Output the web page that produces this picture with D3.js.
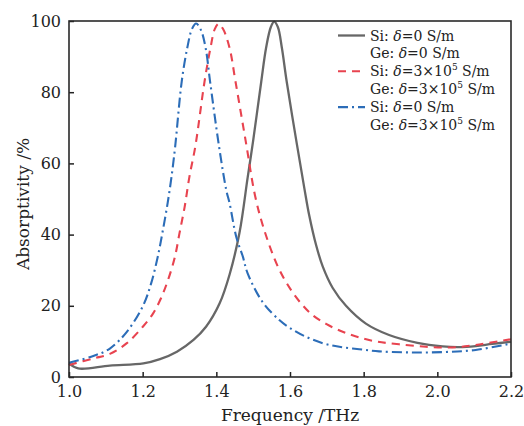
<!DOCTYPE html>
<html lang="en">
<head>
    <meta charset="UTF-8">
    <title>Absorptivity vs Frequency</title>
    <script src="https://d3js.org/d3.v7.min.js"></script>
    <style>
        body { margin: 0; background: #fff; }
        svg { display: block; font-family: "DejaVu Serif", serif; }
        .tick text { font-size: 16px; fill: #222; font-family: "DejaVu Serif", serif; }
        .tick line { stroke: #222; stroke-width: 1.5; }
    </style>
</head>
<body>
    <svg id="chart"></svg>

    <script>
        // Series
        var freqSolid = [1.000, 1.025, 1.111, 1.202, 1.247, 1.293, 1.338, 1.372, 1.409, 1.436, 1.463, 1.485, 1.500, 1.522, 1.535, 1.548, 1.557, 1.567, 1.578, 1.591, 1.619, 1.639, 1.652, 1.671, 1.689, 1.716, 1.752, 1.806, 1.869, 1.946, 2.014, 2.059, 2.104, 2.149, 2.200];
        var absSolid  = [3.8, 2.4, 3.2, 3.8, 5.0, 7.1, 10.4, 14.1, 20.7, 28.8, 40.6, 56.0, 66.4, 83.0, 92.4, 98.3, 99.8, 98.3, 92.4, 83.0, 65.2, 53.0, 45.5, 37.0, 31.0, 25.0, 20.0, 15.0, 11.8, 9.6, 8.6, 8.4, 8.7, 9.3, 9.9];

        var freqDash = [1.000, 1.066, 1.111, 1.157, 1.201, 1.228, 1.250, 1.268, 1.287, 1.300, 1.314, 1.327, 1.343, 1.368, 1.384, 1.396, 1.406, 1.418, 1.436, 1.452, 1.481, 1.505, 1.530, 1.568, 1.603, 1.634, 1.661, 1.698, 1.743, 1.788, 1.838, 1.896, 1.969, 2.041, 2.104, 2.176, 2.200];
        var absDash  = [3.4, 5.2, 6.5, 9.5, 14.2, 17.8, 22.2, 27.0, 33.5, 40.4, 47.8, 56.3, 64.8, 83.0, 92.4, 97.8, 99.2, 97.8, 92.4, 83.0, 65.5, 51.0, 41.3, 30.8, 24.4, 20.2, 17.4, 14.9, 12.7, 11.1, 9.9, 9.2, 8.5, 8.3, 9.0, 10.2, 10.6];

        var freqDashDot = [1.000, 1.066, 1.111, 1.157, 1.201, 1.223, 1.241, 1.255, 1.268, 1.278, 1.288, 1.306, 1.321, 1.334, 1.345, 1.358, 1.371, 1.383, 1.407, 1.427, 1.436, 1.454, 1.472, 1.485, 1.526, 1.571, 1.598, 1.639, 1.689, 1.734, 1.788, 1.842, 1.924, 2.014, 2.104, 2.200];
        var absDashDot  = [4.0, 5.9, 8.0, 12.7, 20.0, 26.3, 33.8, 41.3, 49.0, 56.0, 64.5, 83.0, 92.4, 97.8, 99.3, 97.5, 92.4, 83.0, 65.0, 52.5, 48.8, 39.4, 33.8, 29.1, 21.0, 16.0, 13.9, 11.5, 9.5, 8.5, 7.8, 7.2, 6.9, 7.0, 7.6, 9.4];

        var xTicks = [1.0, 1.2, 1.4, 1.6, 1.8, 2.0, 2.2];
        var yTicks = [0, 20, 40, 60, 80, 100];

        var seriesColors = ['#676767', '#e8434f', '#2c6db8'];
        var seriesDashes = ['none', '8,6', '10,4,2,4'];

        var W = 524, H = 426;
        var margin = { top: 21, right: 13, bottom: 49, left: 69 };
        var width = W - margin.left - margin.right;
        var height = H - margin.top - margin.bottom;

        var svg = d3.select('#chart')
            .attr('width', W)
            .attr('height', H);

        var g = svg.append('g')
            .attr('transform', 'translate(' + margin.left + ',' + margin.top + ')');

        var xScale = d3.scaleLinear().domain([1.0, 2.2]).range([0, width]);
        var yScale = d3.scaleLinear().domain([0, 100]).range([height, 0]);

        var series = [
            { f: freqSolid, v: absSolid },
            { f: freqDash, v: absDash },
            { f: freqDashDot, v: absDashDot }
        ];

        var line = d3.line()
            .x(d => xScale(d[0]))
            .y(d => yScale(d[1]))
            .curve(d3.curveCatmullRom.alpha(0.5));

        // curves
        series.forEach(function (s, i) {
            g.append('path')
                .datum(d3.zip(s.f, s.v))
                .attr('fill', 'none')
                .attr('stroke', seriesColors[i])
                .attr('stroke-width', i === 0 ? 2.3 : 2.1)
                .attr('stroke-dasharray', seriesDashes[i])
                .attr('d', line);
        });

        // axes, ticks point inward
        g.append('g')
            .attr('transform', 'translate(0,' + height + ')')
            .call(d3.axisBottom(xScale).tickValues(xTicks).tickFormat(d3.format('.1f'))
                .tickSizeInner(-5).tickSizeOuter(0).tickPadding(9))
            .call(ax => ax.select('.domain').remove());

        g.append('g')
            .call(d3.axisLeft(yScale).tickValues(yTicks).tickFormat(d3.format('d'))
                .tickSizeInner(-5).tickSizeOuter(0).tickPadding(8))
            .call(ax => ax.select('.domain').remove());

        // frame
        g.append('rect')
            .attr('width', width)
            .attr('height', height)
            .attr('fill', 'none')
            .attr('stroke', '#2a2a2a')
            .attr('stroke-width', 1.6);

        // axis titles
        svg.append('text')
            .attr('x', margin.left + width / 2)
            .attr('y', 421)
            .attr('text-anchor', 'middle')
            .style('font-size', '17px')
            .style('fill', '#222')
            .text('Frequency /THz');

        svg.append('text')
            .attr('transform', 'translate(29,' + 204 + ') rotate(-90)')
            .attr('text-anchor', 'middle')
            .style('font-size', '17px')
            .style('fill', '#222')
            .text('Absorptivity /%');

        // legend
        var legendRows = [
            ['Si: ', '0', null],
            ['Ge: ', '0', null],
            ['Si: ', '3×10', '5'],
            ['Ge: ', '3×10', '5'],
            ['Si: ', '0', null],
            ['Ge: ', '3×10', '5']
        ];
        var legendX = 370, legendY0 = 40.5, legendStep = 17.9;

        var legend = svg.append('g').style('font-size', '14px').style('fill', '#222');
        legendRows.forEach(function (r, i) {
            var t = legend.append('text')
                .attr('x', legendX)
                .attr('y', legendY0 + i * legendStep);
            t.append('tspan').text(r[0]);
            t.append('tspan').style('font-style', 'italic').text('δ');
            t.append('tspan').text('=' + r[1]);
            if (r[2]) {
                t.append('tspan').attr('dy', -6).style('font-size', '9px').text(r[2]);
                t.append('tspan').attr('dy', 6).text(' S/m');
            } else {
                t.append('tspan').text(' S/m');
            }
            if (i % 2 === 0) {
                var k = i / 2;
                legend.append('line')
                    .attr('x1', 338).attr('x2', 365)
                    .attr('y1', legendY0 + i * legendStep - 5)
                    .attr('y2', legendY0 + i * legendStep - 5)
                    .attr('stroke', seriesColors[k])
                    .attr('stroke-width', k === 0 ? 2.3 : 2.1)
                    .attr('stroke-dasharray', seriesDashes[k]);
            }
        });
    </script>
</body>
</html>
